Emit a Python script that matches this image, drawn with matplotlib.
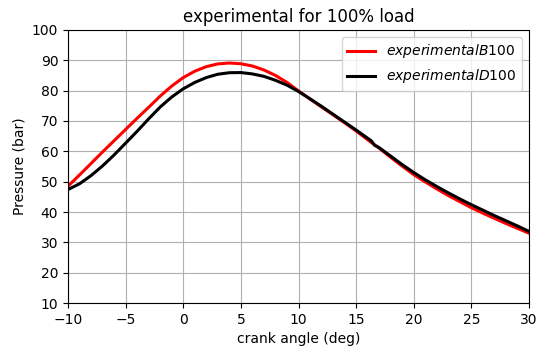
import numpy as np
import matplotlib.pyplot as plt

crank = [-10, -9, -8, -7, -6, -5, -4, -3, -2, -1, 0, 1, 2, 3, 4, 5, 6, 7, 8, 9, 10,
         11, 12, 13, 14, 15, 16, 17, 18, 19, 20, 21, 22, 23, 24, 25, 26, 27, 28, 29, 30]

p_b100 = [48.5, 52.2, 56, 59.8, 63.5, 67.2, 70.9, 74.5, 78.2, 81.5, 84.3, 86.4, 87.9, 88.8, 89.1,
          88.85, 88.1, 86.8, 85, 82.7, 79.9, 77.2, 74.6, 72, 69.4, 66.7, 63.8, 61, 58, 55.1,
          52.3, 49.9, 47.6, 45.4, 43.4, 41.4, 39.6, 37.9, 36.2, 34.6, 33]

crank_d = [-10, -9, -8, -7, -6, -5, -4, -3, -2, -1, 0, 1, 2, 3, 4, 5, 6, 7, 8, 9, 10,
           11, 12, 13, 14, 15, 16, 16.3, 16.6, 17, 18, 19, 20, 21, 22, 23, 24, 25, 26, 27, 28, 29, 30]

p_d100 = [47.4, 49.3, 52, 55.2, 58.8, 62.7, 66.6, 70.7, 74.6, 77.9, 80.6, 82.7, 84.3, 85.4, 85.9,
          85.95, 85.5, 84.7, 83.4, 81.8, 79.7, 77.3, 74.8, 72.2, 69.6, 67, 64.3, 63.5, 62, 61.2,
          58.4, 55.6, 53, 50.6, 48.4, 46.3, 44.3, 42.4, 40.6, 38.8, 37.1, 35.4, 33.6]

fig = plt.figure(figsize=(5.5, 3.52), dpi=100)
ax = fig.add_axes([0.1236, 0.139, 0.8384, 0.776])

ax.plot(crank, p_b100, color='r', linewidth=2.2, label='$experimental B100$')
ax.plot(crank_d, p_d100, color='k', linewidth=2.2, label='$experimental D100$')

ax.set_xlim(-10, 30)
ax.set_ylim(10, 100)
ax.set_yticks(np.arange(10, 101, 10))
ax.set_title('experimental for 100% load')
ax.set_xlabel('crank angle (deg)')
ax.set_ylabel('Pressure (bar)')
ax.grid(True)
ax.legend(loc='upper right')

fig.savefig('out.png', dpi=100)
